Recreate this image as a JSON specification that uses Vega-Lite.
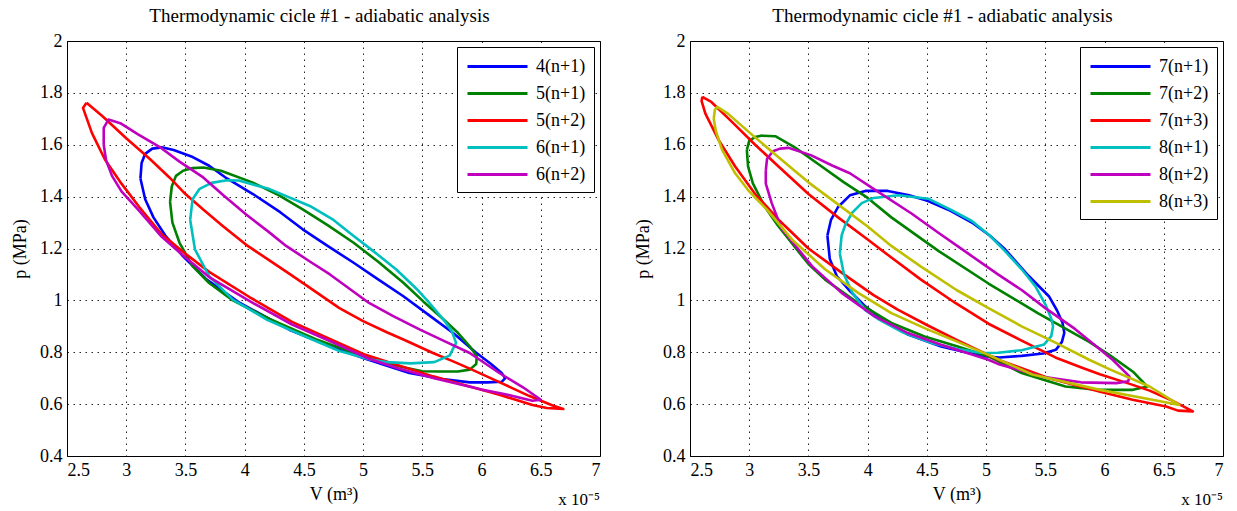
{
  "$schema": "https://vega.github.io/schema/vega-lite/v6.json",
  "background": "white",
  "padding": {"left": 11, "top": 6, "right": 5, "bottom": 3},
  "bounds": "flush",
  "spacing": 90,
  "config": {
    "font": "Liberation Serif",
    "view": {"stroke": "#000", "strokeWidth": 1},
    "axis": {"grid": true, "gridColor": "#000", "gridDash": [1.5, 4.5], "gridOpacity": 0.85, "gridWidth": 1, "domain": false, "ticks": false, "labelFont": "Liberation Serif", "labelFontSize": 18, "labelColor": "#000", "labelPadding": 5, "titleFont": "Liberation Serif", "titleFontSize": 18, "titleFontWeight": "normal", "titleColor": "#000"},
    "title": {"font": "Liberation Serif", "fontSize": 19, "fontWeight": "normal", "color": "#000"},
    "legend": {"orient": "top-right", "offset": 6, "strokeColor": "#000", "fillColor": "#fff", "padding": 8, "symbolType": "M-0.9,0H5.1", "symbolSize": 400, "symbolStrokeWidth": 3, "symbolFillColor": "transparent", "labelFont": "Liberation Serif", "labelFontSize": 18, "labelColor": "#000", "labelOffset": 48, "rowPadding": 6, "labelExpr": "datum.label + '\u00a0\u00a0\u00a0\u00a0'", "title": null}
  },
  "resolve": {"scale": {"color": "independent"}},
  "datasets": {
    "left": [
      {"s":"4(n+1)","i":0,"V":3.12,"p":1.47},{"s":"4(n+1)","i":1,"V":3.13,"p":1.53},{"s":"4(n+1)","i":2,"V":3.16,"p":1.565},{"s":"4(n+1)","i":3,"V":3.22,"p":1.585},{"s":"4(n+1)","i":4,"V":3.3,"p":1.59},{"s":"4(n+1)","i":5,"V":3.4,"p":1.58},{"s":"4(n+1)","i":6,"V":3.55,"p":1.555},{"s":"4(n+1)","i":7,"V":3.7,"p":1.519},{"s":"4(n+1)","i":8,"V":3.85,"p":1.47},{"s":"4(n+1)","i":9,"V":4.07,"p":1.41},{"s":"4(n+1)","i":10,"V":4.3,"p":1.34},{"s":"4(n+1)","i":11,"V":4.49,"p":1.274},{"s":"4(n+1)","i":12,"V":4.7,"p":1.21},{"s":"4(n+1)","i":13,"V":4.92,"p":1.145},{"s":"4(n+1)","i":14,"V":5.13,"p":1.08},{"s":"4(n+1)","i":15,"V":5.34,"p":1.016},{"s":"4(n+1)","i":16,"V":5.55,"p":0.945},{"s":"4(n+1)","i":17,"V":5.76,"p":0.874},{"s":"4(n+1)","i":18,"V":5.95,"p":0.8},{"s":"4(n+1)","i":19,"V":6.08,"p":0.755},{"s":"4(n+1)","i":20,"V":6.17,"p":0.72},{"s":"4(n+1)","i":21,"V":6.2,"p":0.7},{"s":"4(n+1)","i":22,"V":6.17,"p":0.686},{"s":"4(n+1)","i":23,"V":6.05,"p":0.684},{"s":"4(n+1)","i":24,"V":5.9,"p":0.684},{"s":"4(n+1)","i":25,"V":5.67,"p":0.697},{"s":"4(n+1)","i":26,"V":5.39,"p":0.72},{"s":"4(n+1)","i":27,"V":5.0,"p":0.778},{"s":"4(n+1)","i":28,"V":4.81,"p":0.809},{"s":"4(n+1)","i":29,"V":4.38,"p":0.886},{"s":"4(n+1)","i":30,"V":3.96,"p":0.99},{"s":"4(n+1)","i":31,"V":3.68,"p":1.08},{"s":"4(n+1)","i":32,"V":3.48,"p":1.17},{"s":"4(n+1)","i":33,"V":3.33,"p":1.25},{"s":"4(n+1)","i":34,"V":3.23,"p":1.32},{"s":"4(n+1)","i":35,"V":3.16,"p":1.39},{"s":"4(n+1)","i":36,"V":3.12,"p":1.47},
      {"s":"5(n+1)","i":0,"V":3.37,"p":1.38},{"s":"5(n+1)","i":1,"V":3.385,"p":1.44},{"s":"5(n+1)","i":2,"V":3.42,"p":1.48},{"s":"5(n+1)","i":3,"V":3.48,"p":1.5},{"s":"5(n+1)","i":4,"V":3.56,"p":1.51},{"s":"5(n+1)","i":5,"V":3.65,"p":1.512},{"s":"5(n+1)","i":6,"V":3.8,"p":1.5},{"s":"5(n+1)","i":7,"V":4.07,"p":1.454},{"s":"5(n+1)","i":8,"V":4.29,"p":1.405},{"s":"5(n+1)","i":9,"V":4.49,"p":1.351},{"s":"5(n+1)","i":10,"V":4.7,"p":1.29},{"s":"5(n+1)","i":11,"V":4.92,"p":1.222},{"s":"5(n+1)","i":12,"V":5.13,"p":1.148},{"s":"5(n+1)","i":13,"V":5.34,"p":1.068},{"s":"5(n+1)","i":14,"V":5.51,"p":0.995},{"s":"5(n+1)","i":15,"V":5.68,"p":0.926},{"s":"5(n+1)","i":16,"V":5.8,"p":0.875},{"s":"5(n+1)","i":17,"V":5.9,"p":0.823},{"s":"5(n+1)","i":18,"V":5.96,"p":0.785},{"s":"5(n+1)","i":19,"V":5.955,"p":0.755},{"s":"5(n+1)","i":20,"V":5.9,"p":0.733},{"s":"5(n+1)","i":21,"V":5.8,"p":0.726},{"s":"5(n+1)","i":22,"V":5.65,"p":0.726},{"s":"5(n+1)","i":23,"V":5.5,"p":0.727},{"s":"5(n+1)","i":24,"V":5.3,"p":0.746},{"s":"5(n+1)","i":25,"V":5.0,"p":0.785},{"s":"5(n+1)","i":26,"V":4.6,"p":0.85},{"s":"5(n+1)","i":27,"V":4.2,"p":0.93},{"s":"5(n+1)","i":28,"V":3.9,"p":1.0},{"s":"5(n+1)","i":29,"V":3.7,"p":1.067},{"s":"5(n+1)","i":30,"V":3.56,"p":1.132},{"s":"5(n+1)","i":31,"V":3.45,"p":1.222},{"s":"5(n+1)","i":32,"V":3.39,"p":1.3},{"s":"5(n+1)","i":33,"V":3.37,"p":1.38},
      {"s":"5(n+2)","i":0,"V":2.665,"p":1.762},{"s":"5(n+2)","i":1,"V":2.8,"p":1.71},{"s":"5(n+2)","i":2,"V":3.0,"p":1.625},{"s":"5(n+2)","i":3,"V":3.2,"p":1.545},{"s":"5(n+2)","i":4,"V":3.365,"p":1.474},{"s":"5(n+2)","i":5,"V":3.5,"p":1.41},{"s":"5(n+2)","i":6,"V":3.65,"p":1.35},{"s":"5(n+2)","i":7,"V":3.82,"p":1.285},{"s":"5(n+2)","i":8,"V":4.01,"p":1.215},{"s":"5(n+2)","i":9,"V":4.19,"p":1.16},{"s":"5(n+2)","i":10,"V":4.36,"p":1.108},{"s":"5(n+2)","i":11,"V":4.53,"p":1.055},{"s":"5(n+2)","i":12,"V":4.8,"p":0.97},{"s":"5(n+2)","i":13,"V":5.0,"p":0.92},{"s":"5(n+2)","i":14,"V":5.2,"p":0.877},{"s":"5(n+2)","i":15,"V":5.34,"p":0.849},{"s":"5(n+2)","i":16,"V":5.59,"p":0.797},{"s":"5(n+2)","i":17,"V":5.76,"p":0.765},{"s":"5(n+2)","i":18,"V":5.9,"p":0.737},{"s":"5(n+2)","i":19,"V":6.15,"p":0.685},{"s":"5(n+2)","i":20,"V":6.4,"p":0.632},{"s":"5(n+2)","i":21,"V":6.6,"p":0.595},{"s":"5(n+2)","i":22,"V":6.69,"p":0.581},{"s":"5(n+2)","i":23,"V":6.55,"p":0.585},{"s":"5(n+2)","i":24,"V":6.43,"p":0.597},{"s":"5(n+2)","i":25,"V":6.15,"p":0.636},{"s":"5(n+2)","i":26,"V":5.59,"p":0.707},{"s":"5(n+2)","i":27,"V":5.02,"p":0.79},{"s":"5(n+2)","i":28,"V":4.7,"p":0.855},{"s":"5(n+2)","i":29,"V":4.4,"p":0.917},{"s":"5(n+2)","i":30,"V":4.04,"p":1.013},{"s":"5(n+2)","i":31,"V":3.7,"p":1.11},{"s":"5(n+2)","i":32,"V":3.5,"p":1.18},{"s":"5(n+2)","i":33,"V":3.3,"p":1.255},{"s":"5(n+2)","i":34,"V":3.11,"p":1.36},{"s":"5(n+2)","i":35,"V":2.96,"p":1.45},{"s":"5(n+2)","i":36,"V":2.82,"p":1.543},{"s":"5(n+2)","i":37,"V":2.71,"p":1.646},{"s":"5(n+2)","i":38,"V":2.635,"p":1.742},{"s":"5(n+2)","i":39,"V":2.665,"p":1.762},
      {"s":"6(n+1)","i":0,"V":3.54,"p":1.31},{"s":"6(n+1)","i":1,"V":3.56,"p":1.39},{"s":"6(n+1)","i":2,"V":3.62,"p":1.43},{"s":"6(n+1)","i":3,"V":3.72,"p":1.453},{"s":"6(n+1)","i":4,"V":3.85,"p":1.463},{"s":"6(n+1)","i":5,"V":3.95,"p":1.462},{"s":"6(n+1)","i":6,"V":4.21,"p":1.429},{"s":"6(n+1)","i":7,"V":4.55,"p":1.364},{"s":"6(n+1)","i":8,"V":4.75,"p":1.31},{"s":"6(n+1)","i":9,"V":4.92,"p":1.248},{"s":"6(n+1)","i":10,"V":5.1,"p":1.185},{"s":"6(n+1)","i":11,"V":5.28,"p":1.119},{"s":"6(n+1)","i":12,"V":5.45,"p":1.045},{"s":"6(n+1)","i":13,"V":5.56,"p":0.99},{"s":"6(n+1)","i":14,"V":5.68,"p":0.925},{"s":"6(n+1)","i":15,"V":5.75,"p":0.88},{"s":"6(n+1)","i":16,"V":5.785,"p":0.836},{"s":"6(n+1)","i":17,"V":5.73,"p":0.787},{"s":"6(n+1)","i":18,"V":5.6,"p":0.762},{"s":"6(n+1)","i":19,"V":5.4,"p":0.757},{"s":"6(n+1)","i":20,"V":5.2,"p":0.762},{"s":"6(n+1)","i":21,"V":5.06,"p":0.772},{"s":"6(n+1)","i":22,"V":4.8,"p":0.805},{"s":"6(n+1)","i":23,"V":4.53,"p":0.857},{"s":"6(n+1)","i":24,"V":4.19,"p":0.925},{"s":"6(n+1)","i":25,"V":3.9,"p":1.003},{"s":"6(n+1)","i":26,"V":3.7,"p":1.093},{"s":"6(n+1)","i":27,"V":3.58,"p":1.197},{"s":"6(n+1)","i":28,"V":3.54,"p":1.31},
      {"s":"6(n+2)","i":0,"V":2.81,"p":1.6},{"s":"6(n+2)","i":1,"V":2.81,"p":1.665},{"s":"6(n+2)","i":2,"V":2.85,"p":1.697},{"s":"6(n+2)","i":3,"V":2.95,"p":1.683},{"s":"6(n+2)","i":4,"V":3.1,"p":1.64},{"s":"6(n+2)","i":5,"V":3.28,"p":1.592},{"s":"6(n+2)","i":6,"V":3.45,"p":1.535},{"s":"6(n+2)","i":7,"V":3.65,"p":1.474},{"s":"6(n+2)","i":8,"V":3.82,"p":1.405},{"s":"6(n+2)","i":9,"V":4.01,"p":1.332},{"s":"6(n+2)","i":10,"V":4.2,"p":1.265},{"s":"6(n+2)","i":11,"V":4.35,"p":1.21},{"s":"6(n+2)","i":12,"V":4.55,"p":1.15},{"s":"6(n+2)","i":13,"V":4.72,"p":1.1},{"s":"6(n+2)","i":14,"V":5.05,"p":0.99},{"s":"6(n+2)","i":15,"V":5.25,"p":0.94},{"s":"6(n+2)","i":16,"V":5.48,"p":0.887},{"s":"6(n+2)","i":17,"V":5.7,"p":0.84},{"s":"6(n+2)","i":18,"V":5.9,"p":0.797},{"s":"6(n+2)","i":19,"V":6.15,"p":0.72},{"s":"6(n+2)","i":20,"V":6.35,"p":0.665},{"s":"6(n+2)","i":21,"V":6.5,"p":0.617},{"s":"6(n+2)","i":22,"V":6.43,"p":0.613},{"s":"6(n+2)","i":23,"V":6.2,"p":0.638},{"s":"6(n+2)","i":24,"V":6.0,"p":0.656},{"s":"6(n+2)","i":25,"V":5.6,"p":0.7},{"s":"6(n+2)","i":26,"V":5.3,"p":0.737},{"s":"6(n+2)","i":27,"V":5.05,"p":0.775},{"s":"6(n+2)","i":28,"V":4.7,"p":0.847},{"s":"6(n+2)","i":29,"V":4.4,"p":0.907},{"s":"6(n+2)","i":30,"V":4.05,"p":0.995},{"s":"6(n+2)","i":31,"V":3.7,"p":1.09},{"s":"6(n+2)","i":32,"V":3.5,"p":1.165},{"s":"6(n+2)","i":33,"V":3.3,"p":1.245},{"s":"6(n+2)","i":34,"V":3.11,"p":1.345},{"s":"6(n+2)","i":35,"V":2.96,"p":1.42},{"s":"6(n+2)","i":36,"V":2.88,"p":1.48},{"s":"6(n+2)","i":37,"V":2.83,"p":1.54},{"s":"6(n+2)","i":38,"V":2.81,"p":1.6}
    ],
    "right": [
      {"s":"7(n+1)","i":0,"V":3.66,"p":1.25},{"s":"7(n+1)","i":1,"V":3.69,"p":1.31},{"s":"7(n+1)","i":2,"V":3.75,"p":1.36},{"s":"7(n+1)","i":3,"V":3.85,"p":1.405},{"s":"7(n+1)","i":4,"V":3.98,"p":1.422},{"s":"7(n+1)","i":5,"V":4.17,"p":1.422},{"s":"7(n+1)","i":6,"V":4.35,"p":1.405},{"s":"7(n+1)","i":7,"V":4.51,"p":1.383},{"s":"7(n+1)","i":8,"V":4.7,"p":1.345},{"s":"7(n+1)","i":9,"V":4.88,"p":1.3},{"s":"7(n+1)","i":10,"V":5.03,"p":1.25},{"s":"7(n+1)","i":11,"V":5.16,"p":1.197},{"s":"7(n+1)","i":12,"V":5.36,"p":1.094},{"s":"7(n+1)","i":13,"V":5.53,"p":1.016},{"s":"7(n+1)","i":14,"V":5.6,"p":0.96},{"s":"7(n+1)","i":15,"V":5.645,"p":0.914},{"s":"7(n+1)","i":16,"V":5.66,"p":0.875},{"s":"7(n+1)","i":17,"V":5.64,"p":0.84},{"s":"7(n+1)","i":18,"V":5.59,"p":0.81},{"s":"7(n+1)","i":19,"V":5.48,"p":0.795},{"s":"7(n+1)","i":20,"V":5.3,"p":0.786},{"s":"7(n+1)","i":21,"V":5.11,"p":0.78},{"s":"7(n+1)","i":22,"V":4.97,"p":0.785},{"s":"7(n+1)","i":23,"V":4.62,"p":0.822},{"s":"7(n+1)","i":24,"V":4.34,"p":0.868},{"s":"7(n+1)","i":25,"V":4.1,"p":0.935},{"s":"7(n+1)","i":26,"V":3.98,"p":0.977},{"s":"7(n+1)","i":27,"V":3.84,"p":1.041},{"s":"7(n+1)","i":28,"V":3.74,"p":1.093},{"s":"7(n+1)","i":29,"V":3.68,"p":1.16},{"s":"7(n+1)","i":30,"V":3.66,"p":1.25},
      {"s":"7(n+2)","i":0,"V":2.98,"p":1.58},{"s":"7(n+2)","i":1,"V":3.0,"p":1.615},{"s":"7(n+2)","i":2,"V":3.05,"p":1.63},{"s":"7(n+2)","i":3,"V":3.1,"p":1.635},{"s":"7(n+2)","i":4,"V":3.22,"p":1.633},{"s":"7(n+2)","i":5,"V":3.385,"p":1.59},{"s":"7(n+2)","i":6,"V":3.6,"p":1.52},{"s":"7(n+2)","i":7,"V":3.8,"p":1.455},{"s":"7(n+2)","i":8,"V":4.0,"p":1.395},{"s":"7(n+2)","i":9,"V":4.2,"p":1.32},{"s":"7(n+2)","i":10,"V":4.6,"p":1.19},{"s":"7(n+2)","i":11,"V":5.02,"p":1.065},{"s":"7(n+2)","i":12,"V":5.44,"p":0.95},{"s":"7(n+2)","i":13,"V":5.87,"p":0.84},{"s":"7(n+2)","i":14,"V":6.04,"p":0.79},{"s":"7(n+2)","i":15,"V":6.24,"p":0.725},{"s":"7(n+2)","i":16,"V":6.36,"p":0.668},{"s":"7(n+2)","i":17,"V":6.24,"p":0.655},{"s":"7(n+2)","i":18,"V":5.95,"p":0.655},{"s":"7(n+2)","i":19,"V":5.67,"p":0.668},{"s":"7(n+2)","i":20,"V":5.3,"p":0.72},{"s":"7(n+2)","i":21,"V":5.02,"p":0.784},{"s":"7(n+2)","i":22,"V":4.76,"p":0.822},{"s":"7(n+2)","i":23,"V":4.48,"p":0.861},{"s":"7(n+2)","i":24,"V":4.2,"p":0.913},{"s":"7(n+2)","i":25,"V":3.92,"p":0.99},{"s":"7(n+2)","i":26,"V":3.64,"p":1.08},{"s":"7(n+2)","i":27,"V":3.5,"p":1.14},{"s":"7(n+2)","i":28,"V":3.36,"p":1.22},{"s":"7(n+2)","i":29,"V":3.24,"p":1.29},{"s":"7(n+2)","i":30,"V":3.13,"p":1.362},{"s":"7(n+2)","i":31,"V":3.03,"p":1.452},{"s":"7(n+2)","i":32,"V":2.99,"p":1.517},{"s":"7(n+2)","i":33,"V":2.98,"p":1.58},
      {"s":"7(n+3)","i":0,"V":2.604,"p":1.785},{"s":"7(n+3)","i":1,"V":2.68,"p":1.765},{"s":"7(n+3)","i":2,"V":2.85,"p":1.69},{"s":"7(n+3)","i":3,"V":3.05,"p":1.6},{"s":"7(n+3)","i":4,"V":3.25,"p":1.515},{"s":"7(n+3)","i":5,"V":3.5,"p":1.41},{"s":"7(n+3)","i":6,"V":3.75,"p":1.32},{"s":"7(n+3)","i":7,"V":4.0,"p":1.235},{"s":"7(n+3)","i":8,"V":4.2,"p":1.165},{"s":"7(n+3)","i":9,"V":4.45,"p":1.08},{"s":"7(n+3)","i":10,"V":4.74,"p":0.99},{"s":"7(n+3)","i":11,"V":5.02,"p":0.91},{"s":"7(n+3)","i":12,"V":5.3,"p":0.845},{"s":"7(n+3)","i":13,"V":5.585,"p":0.78},{"s":"7(n+3)","i":14,"V":5.81,"p":0.74},{"s":"7(n+3)","i":15,"V":5.96,"p":0.715},{"s":"7(n+3)","i":16,"V":6.2,"p":0.68},{"s":"7(n+3)","i":17,"V":6.38,"p":0.652},{"s":"7(n+3)","i":18,"V":6.55,"p":0.618},{"s":"7(n+3)","i":19,"V":6.746,"p":0.572},{"s":"7(n+3)","i":20,"V":6.62,"p":0.575},{"s":"7(n+3)","i":21,"V":6.52,"p":0.591},{"s":"7(n+3)","i":22,"V":6.237,"p":0.617},{"s":"7(n+3)","i":23,"V":5.955,"p":0.649},{"s":"7(n+3)","i":24,"V":5.531,"p":0.7},{"s":"7(n+3)","i":25,"V":5.107,"p":0.77},{"s":"7(n+3)","i":26,"V":4.764,"p":0.845},{"s":"7(n+3)","i":27,"V":4.5,"p":0.905},{"s":"7(n+3)","i":28,"V":4.25,"p":0.965},{"s":"7(n+3)","i":29,"V":4.05,"p":1.02},{"s":"7(n+3)","i":30,"V":3.8,"p":1.1},{"s":"7(n+3)","i":31,"V":3.5,"p":1.2},{"s":"7(n+3)","i":32,"V":3.25,"p":1.31},{"s":"7(n+3)","i":33,"V":3.05,"p":1.41},{"s":"7(n+3)","i":34,"V":2.88,"p":1.517},{"s":"7(n+3)","i":35,"V":2.74,"p":1.62},{"s":"7(n+3)","i":36,"V":2.63,"p":1.72},{"s":"7(n+3)","i":37,"V":2.598,"p":1.768},{"s":"7(n+3)","i":38,"V":2.604,"p":1.785},
      {"s":"8(n+1)","i":0,"V":3.765,"p":1.18},{"s":"8(n+1)","i":1,"V":3.78,"p":1.25},{"s":"8(n+1)","i":2,"V":3.81,"p":1.29},{"s":"8(n+1)","i":3,"V":3.87,"p":1.338},{"s":"8(n+1)","i":4,"V":3.95,"p":1.375},{"s":"8(n+1)","i":5,"V":4.05,"p":1.395},{"s":"8(n+1)","i":6,"V":4.26,"p":1.405},{"s":"8(n+1)","i":7,"V":4.51,"p":1.392},{"s":"8(n+1)","i":8,"V":4.7,"p":1.35},{"s":"8(n+1)","i":9,"V":4.88,"p":1.306},{"s":"8(n+1)","i":10,"V":5.03,"p":1.25},{"s":"8(n+1)","i":11,"V":5.16,"p":1.19},{"s":"8(n+1)","i":12,"V":5.3,"p":1.12},{"s":"8(n+1)","i":13,"V":5.415,"p":1.055},{"s":"8(n+1)","i":14,"V":5.5,"p":0.985},{"s":"8(n+1)","i":15,"V":5.55,"p":0.93},{"s":"8(n+1)","i":16,"V":5.565,"p":0.9},{"s":"8(n+1)","i":17,"V":5.55,"p":0.862},{"s":"8(n+1)","i":18,"V":5.49,"p":0.83},{"s":"8(n+1)","i":19,"V":5.3,"p":0.808},{"s":"8(n+1)","i":20,"V":5.1,"p":0.798},{"s":"8(n+1)","i":21,"V":4.97,"p":0.797},{"s":"8(n+1)","i":22,"V":4.76,"p":0.812},{"s":"8(n+1)","i":23,"V":4.55,"p":0.835},{"s":"8(n+1)","i":24,"V":4.3,"p":0.876},{"s":"8(n+1)","i":25,"V":4.1,"p":0.925},{"s":"8(n+1)","i":26,"V":3.98,"p":0.962},{"s":"8(n+1)","i":27,"V":3.87,"p":1.03},{"s":"8(n+1)","i":28,"V":3.8,"p":1.1},{"s":"8(n+1)","i":29,"V":3.765,"p":1.18},
      {"s":"8(n+2)","i":0,"V":3.14,"p":1.5},{"s":"8(n+2)","i":1,"V":3.15,"p":1.545},{"s":"8(n+2)","i":2,"V":3.2,"p":1.575},{"s":"8(n+2)","i":3,"V":3.26,"p":1.585},{"s":"8(n+2)","i":4,"V":3.33,"p":1.588},{"s":"8(n+2)","i":5,"V":3.52,"p":1.56},{"s":"8(n+2)","i":6,"V":3.7,"p":1.52},{"s":"8(n+2)","i":7,"V":3.85,"p":1.49},{"s":"8(n+2)","i":8,"V":4.05,"p":1.43},{"s":"8(n+2)","i":9,"V":4.37,"p":1.335},{"s":"8(n+2)","i":10,"V":4.6,"p":1.26},{"s":"8(n+2)","i":11,"V":4.85,"p":1.18},{"s":"8(n+2)","i":12,"V":5.1,"p":1.1},{"s":"8(n+2)","i":13,"V":5.3,"p":1.04},{"s":"8(n+2)","i":14,"V":5.5,"p":0.97},{"s":"8(n+2)","i":15,"V":5.75,"p":0.89},{"s":"8(n+2)","i":16,"V":5.95,"p":0.815},{"s":"8(n+2)","i":17,"V":6.07,"p":0.77},{"s":"8(n+2)","i":18,"V":6.21,"p":0.707},{"s":"8(n+2)","i":19,"V":6.2,"p":0.688},{"s":"8(n+2)","i":20,"V":6.1,"p":0.681},{"s":"8(n+2)","i":21,"V":5.8,"p":0.684},{"s":"8(n+2)","i":22,"V":5.48,"p":0.705},{"s":"8(n+2)","i":23,"V":5.1,"p":0.755},{"s":"8(n+2)","i":24,"V":5.02,"p":0.771},{"s":"8(n+2)","i":25,"V":4.62,"p":0.829},{"s":"8(n+2)","i":26,"V":4.34,"p":0.874},{"s":"8(n+2)","i":27,"V":4.06,"p":0.938},{"s":"8(n+2)","i":28,"V":3.78,"p":1.029},{"s":"8(n+2)","i":29,"V":3.53,"p":1.132},{"s":"8(n+2)","i":30,"V":3.36,"p":1.228},{"s":"8(n+2)","i":31,"V":3.27,"p":1.28},{"s":"8(n+2)","i":32,"V":3.19,"p":1.375},{"s":"8(n+2)","i":33,"V":3.14,"p":1.45},{"s":"8(n+2)","i":34,"V":3.14,"p":1.5},
      {"s":"8(n+3)","i":0,"V":2.7,"p":1.7},{"s":"8(n+3)","i":1,"V":2.71,"p":1.735},{"s":"8(n+3)","i":2,"V":2.73,"p":1.746},{"s":"8(n+3)","i":3,"V":2.82,"p":1.72},{"s":"8(n+3)","i":4,"V":3.02,"p":1.64},{"s":"8(n+3)","i":5,"V":3.24,"p":1.555},{"s":"8(n+3)","i":6,"V":3.5,"p":1.455},{"s":"8(n+3)","i":7,"V":3.75,"p":1.37},{"s":"8(n+3)","i":8,"V":4.0,"p":1.285},{"s":"8(n+3)","i":9,"V":4.2,"p":1.21},{"s":"8(n+3)","i":10,"V":4.45,"p":1.13},{"s":"8(n+3)","i":11,"V":4.75,"p":1.04},{"s":"8(n+3)","i":12,"V":5.02,"p":0.97},{"s":"8(n+3)","i":13,"V":5.3,"p":0.9},{"s":"8(n+3)","i":14,"V":5.59,"p":0.836},{"s":"8(n+3)","i":15,"V":5.87,"p":0.771},{"s":"8(n+3)","i":16,"V":6.04,"p":0.735},{"s":"8(n+3)","i":17,"V":6.38,"p":0.668},{"s":"8(n+3)","i":18,"V":6.63,"p":0.597},{"s":"8(n+3)","i":19,"V":6.46,"p":0.612},{"s":"8(n+3)","i":20,"V":5.96,"p":0.655},{"s":"8(n+3)","i":21,"V":5.39,"p":0.714},{"s":"8(n+3)","i":22,"V":5.02,"p":0.79},{"s":"8(n+3)","i":23,"V":4.76,"p":0.84},{"s":"8(n+3)","i":24,"V":4.48,"p":0.893},{"s":"8(n+3)","i":25,"V":4.2,"p":0.951},{"s":"8(n+3)","i":26,"V":3.92,"p":1.029},{"s":"8(n+3)","i":27,"V":3.64,"p":1.12},{"s":"8(n+3)","i":28,"V":3.36,"p":1.235},{"s":"8(n+3)","i":29,"V":3.15,"p":1.35},{"s":"8(n+3)","i":30,"V":3.0,"p":1.42},{"s":"8(n+3)","i":31,"V":2.88,"p":1.491},{"s":"8(n+3)","i":32,"V":2.77,"p":1.581},{"s":"8(n+3)","i":33,"V":2.72,"p":1.65},{"s":"8(n+3)","i":34,"V":2.7,"p":1.7}
    ],
    "note": [{"V": 7, "p": 0.4, "t": "x 10⁻⁵"}]
  },
  "hconcat": [
    {
      "width": 533, "height": 415,
      "title": {"text": "Thermodynamic cicle #1 - adiabatic analysis", "offset": 6, "dx": -14},
      "layer": [
        {
          "data": {"name": "left"},
          "mark": {"type": "line", "strokeWidth": 2.6, "strokeJoin": "round", "clip": true},
          "encoding": {
            "x": {"field": "V", "type": "quantitative", "scale": {"domain": [2.5, 7], "nice": false, "zero": false}, "axis": {"title": "V (m³)", "values": [2.5, 3, 3.5, 4, 4.5, 5, 5.5, 6, 6.5, 7], "labelExpr": "'' + datum.value", "titlePadding": 6}},
            "y": {"field": "p", "type": "quantitative", "scale": {"domain": [0.4, 2], "nice": false, "zero": false}, "axis": {"title": "p (MPa)", "values": [0.4, 0.6, 0.8, 1, 1.2, 1.4, 1.6, 1.8, 2], "labelExpr": "'' + datum.value", "titlePadding": 10}},
            "color": {"field": "s", "type": "nominal", "scale": {"domain": ["4(n+1)", "5(n+1)", "5(n+2)", "6(n+1)", "6(n+2)"], "range": ["#0000ff", "#008000", "#ff0000", "#00bfbf", "#bf00bf"]}, "legend": {"title": null}},
            "order": {"field": "i", "type": "quantitative"}
          }
        },
        {
          "data": {"name": "note"},
          "mark": {"type": "text", "align": "right", "baseline": "alphabetic", "dy": 49, "fontSize": 17, "font": "Liberation Serif", "color": "#000"},
          "encoding": {"x": {"field": "V", "type": "quantitative"}, "y": {"field": "p", "type": "quantitative"}, "text": {"field": "t"}}
        }
      ]
    },
    {
      "width": 533, "height": 415,
      "title": {"text": "Thermodynamic cicle #1 - adiabatic analysis", "offset": 6, "dx": -14},
      "layer": [
        {
          "data": {"name": "right"},
          "mark": {"type": "line", "strokeWidth": 2.6, "strokeJoin": "round", "clip": true},
          "encoding": {
            "x": {"field": "V", "type": "quantitative", "scale": {"domain": [2.5, 7], "nice": false, "zero": false}, "axis": {"title": "V (m³)", "values": [2.5, 3, 3.5, 4, 4.5, 5, 5.5, 6, 6.5, 7], "labelExpr": "'' + datum.value", "titlePadding": 6}},
            "y": {"field": "p", "type": "quantitative", "scale": {"domain": [0.4, 2], "nice": false, "zero": false}, "axis": {"title": "p (MPa)", "values": [0.4, 0.6, 0.8, 1, 1.2, 1.4, 1.6, 1.8, 2], "labelExpr": "'' + datum.value", "titlePadding": 10}},
            "color": {"field": "s", "type": "nominal", "scale": {"domain": ["7(n+1)", "7(n+2)", "7(n+3)", "8(n+1)", "8(n+2)", "8(n+3)"], "range": ["#0000ff", "#008000", "#ff0000", "#00bfbf", "#bf00bf", "#bfbf00"]}, "legend": {"title": null}},
            "order": {"field": "i", "type": "quantitative"}
          }
        },
        {
          "data": {"name": "note"},
          "mark": {"type": "text", "align": "right", "baseline": "alphabetic", "dy": 49, "fontSize": 17, "font": "Liberation Serif", "color": "#000"},
          "encoding": {"x": {"field": "V", "type": "quantitative"}, "y": {"field": "p", "type": "quantitative"}, "text": {"field": "t"}}
        }
      ]
    }
  ]
}
